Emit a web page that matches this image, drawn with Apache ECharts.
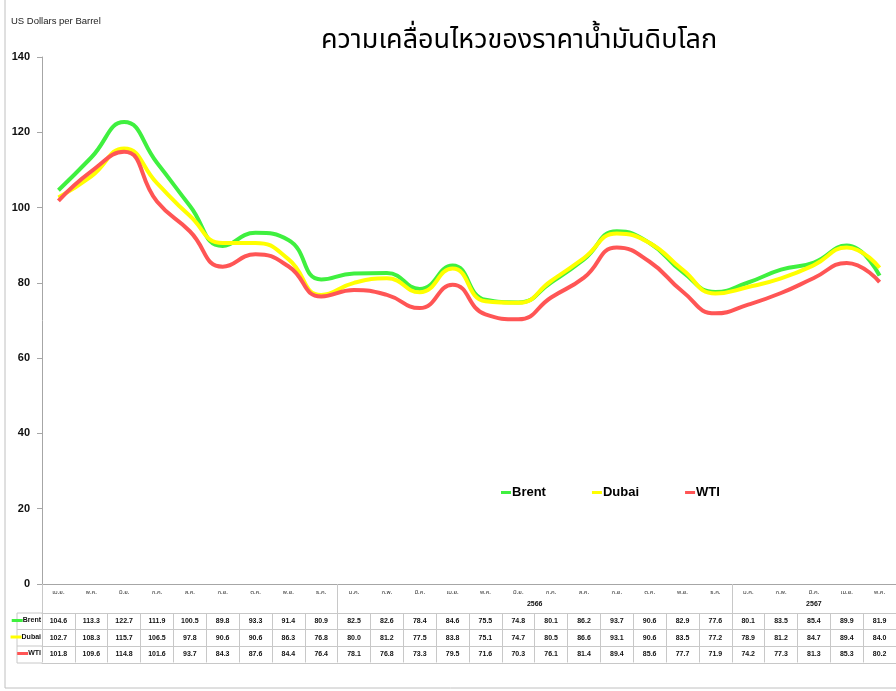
<!DOCTYPE html>
<html>
<head>
<meta charset="utf-8">
<script src="https://cdn.jsdelivr.net/npm/echarts@6/dist/echarts.min.js"></script>
<style>
  html, body { margin: 0; padding: 0; background: #fff; }
  #main { width: 896px; height: 691px; }
</style>
</head>
<body>
<div id="main"></div>
<script>
var months = ['เม.ย.', 'พ.ค.', 'มิ.ย.', 'ก.ค.', 'ส.ค.', 'ก.ย.', 'ต.ค.', 'พ.ย.', 'ธ.ค.',
  'ม.ค.', 'ก.พ.', 'มี.ค.', 'เม.ย.', 'พ.ค.', 'มิ.ย.', 'ก.ค.', 'ส.ค.', 'ก.ย.', 'ต.ค.', 'พ.ย.', 'ธ.ค.',
  'ม.ค.', 'ก.พ.', 'มี.ค.', 'เม.ย.', 'พ.ค.'];
var brent = [104.6, 113.3, 122.7, 111.9, 100.5, 89.8, 93.3, 91.4, 80.9, 82.5, 82.6, 78.4, 84.6,
  75.5, 74.8, 80.1, 86.2, 93.7, 90.6, 82.9, 77.6, 80.1, 83.5, 85.4, 89.9, 81.9];
var dubai = [102.7, 108.3, 115.7, 106.5, 97.8, 90.6, 90.6, 86.3, 76.8, 80.0, 81.2, 77.5, 83.8,
  75.1, 74.7, 80.5, 86.6, 93.1, 90.6, 83.5, 77.2, 78.9, 81.2, 84.7, 89.4, 84.0];
var wti = [101.8, 109.6, 114.8, 101.6, 93.7, 84.3, 87.6, 84.4, 76.4, 78.1, 76.8, 73.3, 79.5,
  71.6, 70.3, 76.1, 81.4, 89.4, 85.6, 77.7, 71.9, 74.2, 77.3, 81.3, 85.3, 80.2];
// year groups: label, first column index, column count
var yearGroups = [['2566', 9, 12], ['2567', 21, 5]];

var colors = { Brent: '#3ff03f', Dubai: '#ffff00', WTI: '#ff5555' };
var narrow = '"Liberation Sans Narrow", "Arial Narrow", "Liberation Sans", Arial, sans-serif';
var thai = '"Noto Sans Thai", "Noto Sans", Tahoma, sans-serif';
var lineCol = '#c8c8c8';

var myChart = echarts.init(document.getElementById('main'));

// one table row = one extra bottom category axis
function rowAxis(name, vals, offset) {
  return {
    type: 'category',
    position: 'bottom',
    offset: offset,
    data: vals.map(function(v) { return v.toFixed(1); }),
    axisLine: { show: true, lineStyle: { color: lineCol } },
    axisTick: { show: true, interval: 0, length: 16.5, lineStyle: { color: lineCol } },
    axisLabel: { interval: 0, margin: 5, fontSize: 7, fontWeight: 'bold', color: '#111', fontFamily: narrow },
    splitLine: { show: false },
    name: '{l|}{t|' + name + '}',
    nameLocation: 'start',
    nameGap: 1,
    nameTextStyle: {
      align: 'right',
      verticalAlign: 'top',
      padding: [4, 0, 0, 0],
      rich: {
        l: { width: 11, height: 3, backgroundColor: colors[name] },
        t: { fontSize: 7, fontWeight: 'bold', color: '#111', fontFamily: narrow }
      }
    }
  };
}

var yearLabelAt = [];
var yearTickAt = [0];
yearGroups.forEach(function(g) {
  yearLabelAt.push(g[1] + g[2] / 2);
  yearTickAt.push(g[1]);
});

var option = {
  animation: false,
  title: [{
    text: 'ความเคลื่อนไหวของราคาน้ำมันดิบโลก',
    left: 316,
    top: 24,
    textStyle: { fontSize: 27, fontWeight: 'normal', color: '#000', fontFamily: thai }
  }, {
    text: 'US Dollars per Barrel',
    left: 6,
    top: 11,
    textStyle: { fontSize: 9.5, fontWeight: 'normal', color: '#222', fontFamily: narrow }
  }],
  legend: {
    left: 496,
    top: 481,
    itemWidth: 10,
    itemHeight: 3,
    itemGap: 46,
    icon: 'rect',
    textStyle: { fontSize: 13, fontWeight: 'bold', color: '#000', fontFamily: narrow, padding: [0, 0, 0, -4] },
    data: ['Brent', 'Dubai', 'WTI']
  },
  grid: { left: 42, top: 57, width: 855, height: 527 },
  xAxis: [{
    type: 'category',
    data: months,
    boundaryGap: true,
    axisLine: { lineStyle: { color: '#a6a6a6' } },
    axisTick: { interval: 0, length: 16, lineStyle: { color: lineCol } },
    axisLabel: { interval: 0, margin: 6, fontSize: 6, color: '#333', fontFamily: thai }
  }, {
    type: 'value',
    position: 'bottom',
    min: 0,
    max: months.length,
    axisLine: { show: false },
    splitLine: { show: false },
    axisTick: { show: true, customValues: yearTickAt, length: 29, lineStyle: { color: lineCol } },
    axisLabel: {
      customValues: yearLabelAt,
      margin: 17,
      fontSize: 7,
      fontWeight: 'bold',
      color: '#111',
      fontFamily: narrow,
      formatter: function(v) {
        for (var i = 0; i < yearGroups.length; i++) {
          if (yearLabelAt[i] === v) return yearGroups[i][0];
        }
        return '';
      }
    }
  },
    rowAxis('Brent', brent, 29),
    rowAxis('Dubai', dubai, 45.5),
    rowAxis('WTI', wti, 62),
  {
    type: 'category',
    position: 'bottom',
    offset: 79,
    data: months,
    axisLine: { show: true, lineStyle: { color: lineCol } },
    axisTick: { show: false },
    axisLabel: { show: false }
  }],
  yAxis: {
    type: 'value',
    min: 0,
    max: 140,
    interval: 20,
    axisLine: { show: true, lineStyle: { color: '#a6a6a6' } },
    axisTick: { show: true, length: 5, lineStyle: { color: '#a6a6a6' } },
    axisLabel: { fontSize: 11, fontWeight: 'bold', color: '#111', margin: 12, fontFamily: narrow },
    splitLine: { show: false }
  },
  graphic: [
    // outer frame + legend column borders of the data table
    { type: 'line', shape: { x1: 5, y1: 0, x2: 5, y2: 688 }, style: { stroke: '#c0c0c0', lineWidth: 1 } },
    { type: 'line', shape: { x1: 5, y1: 688, x2: 896, y2: 688 }, style: { stroke: '#c0c0c0', lineWidth: 1 } },
    { type: 'line', shape: { x1: 17, y1: 613, x2: 17, y2: 663 }, style: { stroke: lineCol, lineWidth: 1 } },
    { type: 'line', shape: { x1: 17, y1: 613, x2: 42, y2: 613 }, style: { stroke: lineCol, lineWidth: 1 } },
    { type: 'line', shape: { x1: 17, y1: 629.5, x2: 42, y2: 629.5 }, style: { stroke: lineCol, lineWidth: 1 } },
    { type: 'line', shape: { x1: 17, y1: 646, x2: 42, y2: 646 }, style: { stroke: lineCol, lineWidth: 1 } },
    { type: 'line', shape: { x1: 17, y1: 663, x2: 42, y2: 663 }, style: { stroke: lineCol, lineWidth: 1 } }
  ],
  series: [{
    name: 'Brent',
    type: 'line',
    smooth: 0.5,
    symbol: 'none',
    xAxisIndex: 0,
    lineStyle: { width: 4, color: colors.Brent },
    itemStyle: { color: colors.Brent },
    data: brent
  }, {
    name: 'Dubai',
    type: 'line',
    smooth: 0.5,
    symbol: 'none',
    xAxisIndex: 0,
    lineStyle: { width: 4, color: colors.Dubai },
    itemStyle: { color: colors.Dubai },
    data: dubai
  }, {
    name: 'WTI',
    type: 'line',
    smooth: 0.5,
    symbol: 'none',
    xAxisIndex: 0,
    lineStyle: { width: 4, color: colors.WTI },
    itemStyle: { color: colors.WTI },
    data: wti
  }]
};

myChart.setOption(option);
window.onresize = myChart.resize;
</script>
</body>
</html>
